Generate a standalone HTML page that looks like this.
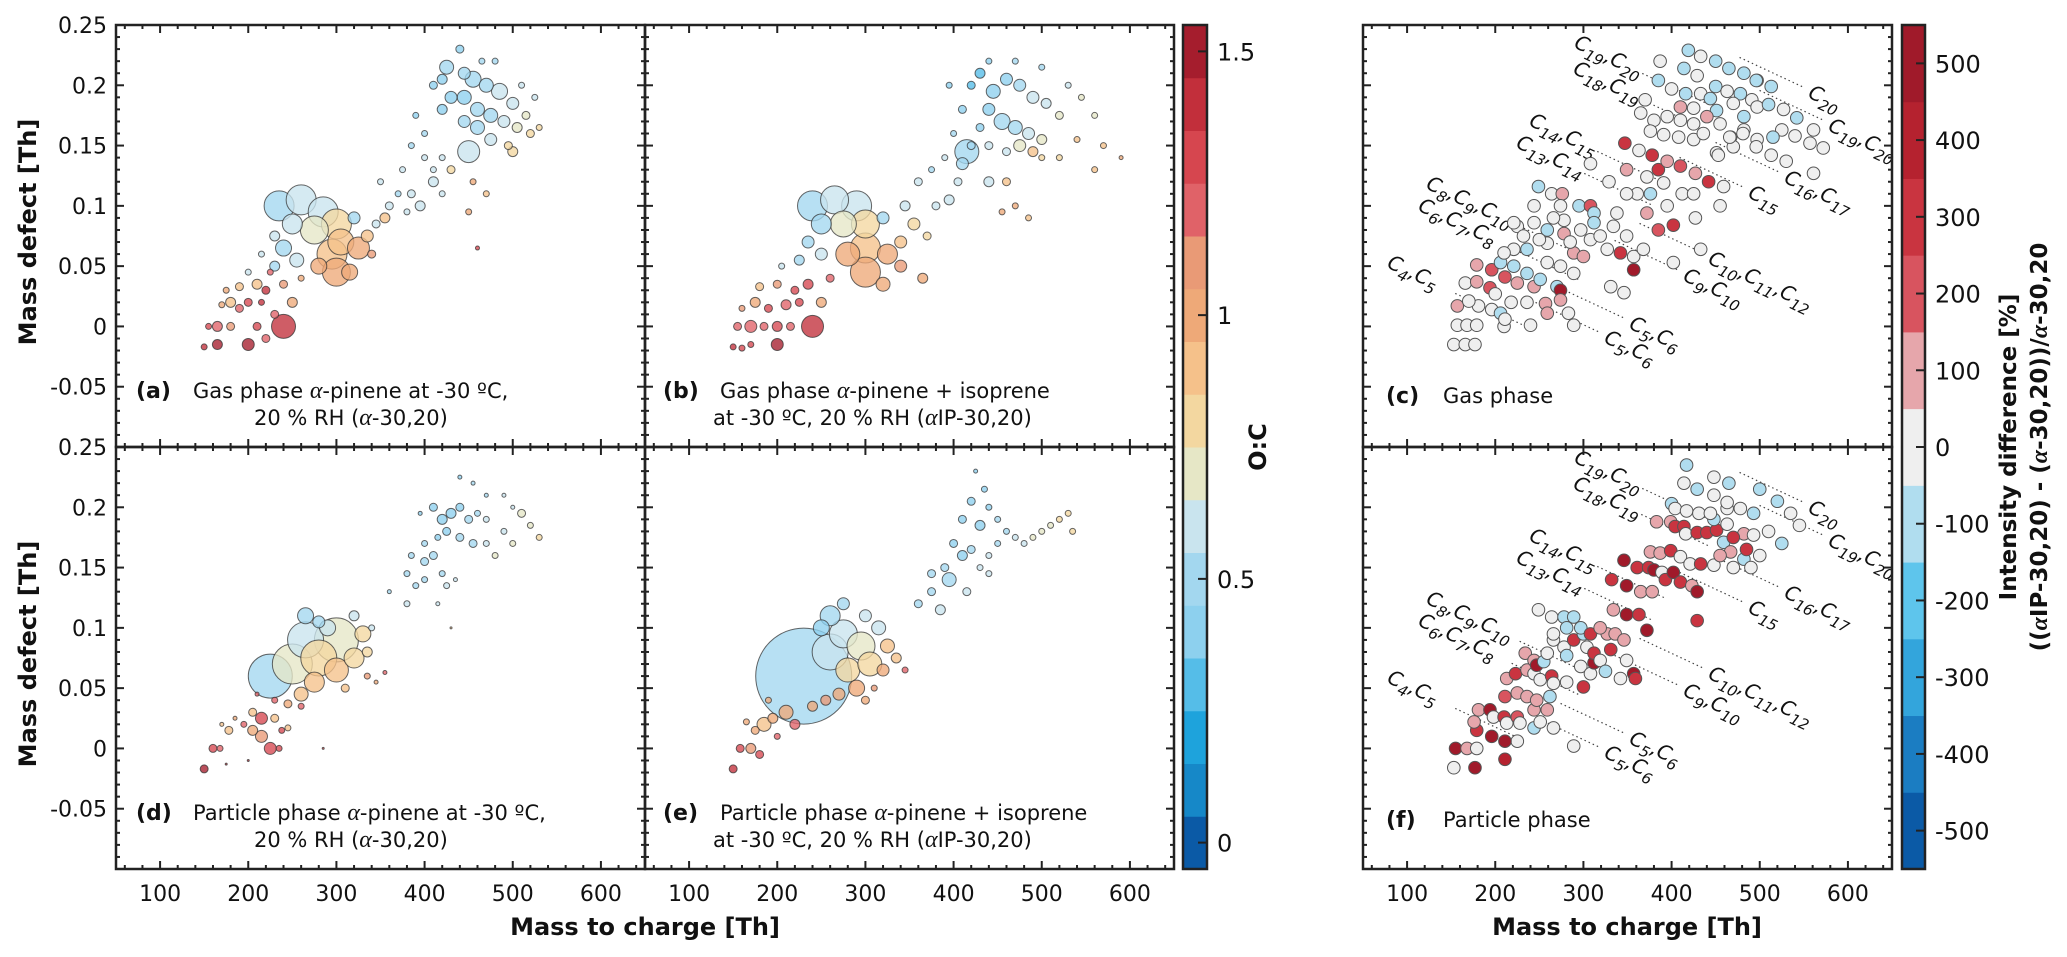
<!DOCTYPE html>
<html><head><meta charset="utf-8"><style>
body{margin:0;background:#fff;}
svg{display:block;font-family:"DejaVu Sans","Liberation Sans",sans-serif;}
</style></head><body>
<svg id="fig" width="2067" height="957" viewBox="0 0 2067 957" xmlns="http://www.w3.org/2000/svg">
<rect width="2067" height="957" fill="#fff"/>
<g id="layer"></g>
</svg>
<script>
// ---------- data ----------
const ocBandColors = ['#0b5aa6','#1688c8','#1ea3dc','#55bde8','#8dd0ee','#a3d7ef','#c9e4ee','#e6e7c6','#f3d7a0','#f5c18a','#eea978','#e99a76','#e06268','#d6464f','#c22f3b','#a51d2d'];
const ocTicks = [0, 0.5, 1, 1.5];
const diffBandColors = ['#0b5aa6','#1b7dc2','#33a5dc','#5ec5ec','#b0ddef','#efefef','#e6a6ab','#d8545f','#c93440','#b5222f','#a01a2a'];
const diffTicks = [-500,-400,-300,-200,-100,0,100,200,300,400,500];
const xTicks = [100,200,300,400,500,600];
const yTicks = [0.25,0.2,0.15,0.1,0.05,0,-0.05];

// [m/z, mass defect, O:C, bubble radius]
const panelA = [[150,-0.017,1.4,3],[165,-0.015,1.5,5],[155,0.0,1.3,3],[165,0.0,1.2,5],[180,0.0,1.1,4],[170,0.018,1.0,3],[180,0.02,0.9,5],[190,0.015,1.2,4],[200,0.02,1.3,4],[210,0.0,1.3,4],[215,0.02,1.4,3],[240,0.0,1.4,12],[200,-0.015,1.5,6],[220,-0.01,1.2,4],[230,0.01,1.2,4],[250,0.02,1.0,5],[190,0.033,0.9,4],[175,0.03,1.0,3],[210,0.035,0.9,5],[220,0.03,1.4,4],[225,0.045,1.2,3],[240,0.035,1.1,4],[260,0.04,1.0,3],[200,0.045,0.6,3],[230,0.05,0.5,5],[215,0.06,0.6,3],
[235,0.1,0.5,15],[260,0.105,0.55,15],[285,0.095,0.6,15],[275,0.08,0.7,14],[250,0.085,0.55,10],[240,0.065,0.5,8],[255,0.055,0.6,7],[230,0.075,0.55,5],[300,0.085,0.8,15],[305,0.07,0.85,13],[295,0.06,0.9,15],[300,0.045,1.0,14],[325,0.065,0.95,11],[335,0.075,0.85,6],[340,0.06,1.1,4],[315,0.045,0.95,8],[280,0.05,0.95,8],[320,0.09,0.5,6],[345,0.085,0.6,4],[360,0.1,0.55,4],[355,0.09,0.85,5],
[350,0.12,0.6,3],[370,0.11,0.5,3],[380,0.095,0.6,3],[385,0.11,0.55,4],[395,0.1,0.6,5],[375,0.13,0.55,3],[385,0.15,0.5,3],[400,0.14,0.55,3],[410,0.13,0.6,3],[420,0.14,0.55,3],[410,0.12,0.55,5],[430,0.13,0.75,4],[455,0.12,0.95,3],[470,0.11,0.85,3],[450,0.095,1.0,3],[460,0.065,1.3,2],[420,0.11,0.6,3],[400,0.16,0.5,3],[390,0.175,0.4,3],
[420,0.205,0.4,5],[425,0.215,0.45,7],[440,0.23,0.4,4],[445,0.21,0.45,6],[455,0.205,0.45,8],[470,0.2,0.5,7],[485,0.195,0.55,8],[500,0.185,0.6,6],[430,0.19,0.4,6],[445,0.19,0.4,7],[460,0.18,0.5,7],[475,0.175,0.5,7],[490,0.17,0.55,6],[505,0.165,0.65,5],[515,0.175,0.7,4],[520,0.16,0.8,4],[530,0.165,0.75,3],[420,0.18,0.4,5],[445,0.17,0.45,6],[460,0.165,0.5,7],[475,0.155,0.6,6],[450,0.145,0.55,11],[495,0.15,0.75,4],[500,0.145,0.8,5],[410,0.2,0.4,4],[465,0.22,0.45,3],[480,0.22,0.5,3],[510,0.2,0.55,3],[525,0.19,0.6,3]];
const panelB = [[150,-0.017,1.4,3],[160,-0.018,1.3,3],[170,-0.015,1.3,3],[200,-0.015,1.5,6],[155,0.0,1.2,4],[170,0.0,1.2,6],[185,0.0,1.2,4],[200,0.0,1.3,5],[215,0.0,1.2,4],[240,0.0,1.4,11],[160,0.015,1.1,3],[175,0.02,1.0,5],[190,0.015,1.3,4],[210,0.018,1.2,5],[225,0.02,1.3,4],[250,0.02,1.0,5],[180,0.033,0.9,4],[200,0.035,1.1,4],[220,0.03,1.3,4],[235,0.035,1.3,5],[260,0.04,1.2,4],[205,0.05,0.6,3],[225,0.055,0.5,5],
[240,0.1,0.5,15],[265,0.105,0.55,14],[290,0.1,0.6,15],[250,0.085,0.5,10],[275,0.085,0.7,13],[300,0.085,0.8,14],[300,0.065,0.9,15],[280,0.06,0.95,12],[300,0.045,1.0,15],[325,0.06,1.0,10],[340,0.07,0.9,6],[340,0.05,1.1,6],[365,0.04,1.0,5],[320,0.035,1.0,7],[235,0.07,0.5,6],[250,0.06,0.55,6],[320,0.09,0.5,6],[345,0.1,0.55,5],[355,0.085,0.75,6],[370,0.075,0.8,4],
[360,0.12,0.55,4],[380,0.1,0.6,4],[395,0.105,0.6,5],[375,0.13,0.5,3],[390,0.14,0.55,3],[405,0.12,0.55,4],[410,0.135,0.5,6],[420,0.15,0.5,4],[400,0.16,0.45,3],[440,0.12,0.6,5],[460,0.12,0.85,4],[470,0.1,0.95,3],[485,0.09,0.9,3],[455,0.095,1.0,3],[500,0.14,0.75,3],[520,0.14,0.8,3],[540,0.155,0.85,3],[570,0.15,0.9,3],[590,0.14,0.95,2],[560,0.13,0.85,3],
[415,0.145,0.5,12],[420,0.2,0.3,4],[430,0.21,0.3,5],[440,0.22,0.35,3],[445,0.195,0.35,7],[460,0.205,0.4,6],[475,0.2,0.45,6],[490,0.19,0.55,6],[505,0.185,0.6,5],[520,0.175,0.7,4],[440,0.18,0.35,6],[455,0.17,0.45,8],[470,0.165,0.5,7],[485,0.16,0.6,6],[500,0.155,0.7,5],[430,0.165,0.4,4],[410,0.18,0.35,4],[395,0.2,0.4,3],[470,0.22,0.45,3],[500,0.215,0.5,3],[530,0.2,0.55,3],[545,0.19,0.65,3],[560,0.175,0.7,3],[440,0.15,0.55,4],[460,0.145,0.6,4],[475,0.15,0.7,6],[490,0.145,0.85,5]];
const panelD = [[150,-0.017,1.45,4],[160,0.0,1.3,4],[168,0.0,1.2,3],[175,-0.013,1.4,1],[170,0.02,0.9,2],[178,0.015,0.9,4],[185,0.025,1.0,2],[195,0.02,1.2,3],[205,0.015,1.0,5],[215,0.01,1.1,6],[225,0.0,1.3,6],[235,0.0,1.3,3],[215,0.025,1.3,6],[205,0.03,0.9,4],[230,0.025,0.85,4],[245,0.017,0.9,3],[238,0.015,1.3,3],[200,-0.01,1.4,1],[285,0.0,1.3,1],
[210,0.045,1.2,2],[230,0.04,1.2,3],[245,0.037,1.0,4],[260,0.035,1.2,3],[225,0.06,0.5,22],[250,0.07,0.7,20],[265,0.09,0.55,18],[280,0.075,0.75,18],[300,0.09,0.65,22],[275,0.055,0.85,10],[260,0.045,0.9,7],[300,0.065,0.85,12],[320,0.075,0.8,10],[330,0.095,0.8,8],[335,0.08,0.75,5],[310,0.05,0.85,4],[335,0.06,1.1,3],[345,0.055,1.0,2],[355,0.063,1.2,2],[290,0.1,0.6,8],[265,0.11,0.5,8],[280,0.105,0.5,6],[320,0.11,0.6,5],[340,0.1,0.6,3],
[360,0.13,0.5,2],[380,0.12,0.55,3],[390,0.135,0.5,3],[400,0.14,0.5,3],[385,0.16,0.45,3],[400,0.155,0.45,4],[410,0.16,0.5,4],[420,0.145,0.5,3],[425,0.135,0.55,3],[380,0.145,0.5,3],[435,0.14,0.6,2],[415,0.12,0.6,2],[430,0.1,0.9,1],
[410,0.2,0.35,4],[420,0.19,0.35,5],[430,0.195,0.4,5],[440,0.2,0.4,4],[450,0.19,0.45,4],[460,0.195,0.5,3],[470,0.19,0.55,3],[425,0.18,0.4,4],[440,0.175,0.45,4],[455,0.17,0.5,4],[470,0.17,0.6,3],[490,0.18,0.6,3],[500,0.17,0.7,3],[510,0.195,0.65,4],[520,0.185,0.7,3],[530,0.175,0.75,3],[480,0.16,0.7,3],[440,0.225,0.4,2],[455,0.22,0.45,2],[470,0.21,0.5,2],[400,0.17,0.45,3],[500,0.2,0.6,2],[490,0.21,0.6,2],[415,0.175,0.4,3],[395,0.195,0.35,2]];
const panelE = [[150,-0.017,1.4,4],[158,0.0,1.3,4],[170,0.0,1.1,5],[180,-0.005,1.3,4],[175,0.015,1.0,4],[185,0.02,0.9,7],[195,0.025,0.95,5],[200,0.01,1.2,3],[210,0.03,0.95,7],[220,0.02,1.2,5],[165,0.022,1.0,3],[190,0.04,1.0,3],
[230,0.06,0.5,48],[260,0.08,0.55,18],[275,0.095,0.55,14],[295,0.085,0.65,14],[280,0.065,0.75,12],[305,0.07,0.8,12],[260,0.11,0.45,10],[250,0.1,0.4,8],[275,0.12,0.45,6],[315,0.1,0.6,7],[300,0.11,0.55,6],[325,0.085,0.85,7],[320,0.065,0.95,6],[335,0.075,0.9,5],[345,0.065,1.2,3],[290,0.05,0.95,8],[270,0.045,1.0,6],[255,0.04,1.1,5],[240,0.035,1.0,5],[300,0.04,1.0,4],[310,0.05,1.1,3],
[360,0.12,0.5,4],[375,0.13,0.5,4],[385,0.115,0.55,5],[395,0.14,0.5,7],[375,0.145,0.45,4],[390,0.15,0.45,4],[410,0.16,0.4,5],[400,0.17,0.4,4],[420,0.165,0.45,4],[430,0.15,0.55,3],[415,0.13,0.55,4],[440,0.145,0.6,3],
[410,0.19,0.35,4],[420,0.205,0.35,4],[430,0.185,0.4,5],[440,0.2,0.4,3],[435,0.215,0.35,3],[450,0.19,0.45,3],[460,0.18,0.5,3],[470,0.175,0.55,3],[480,0.17,0.6,3],[490,0.175,0.65,3],[500,0.18,0.7,3],[510,0.185,0.7,3],[520,0.19,0.75,3],[535,0.18,0.8,3],[530,0.195,0.75,3],[425,0.23,0.4,2],[450,0.17,0.5,3],[440,0.16,0.55,3]];

// [m/z, mass defect, intensity difference %]
const panelC = [[153,-0.015,0],[166,-0.015,0],[177,-0.015,0],[157,0.001,0],[168,0.001,0],[179,0.001,0],[157,0.017,100],[181,0.017,0],[170,0.021,0],[166,0.036,0],[179,0.037,100],[194,0.032,200],[179,0.051,100],[196,0.047,200],[206,0.053,-100],[211,0.041,200],[196,0.014,0],[210,0.0,0],[206,0.011,-100],[211,0.006,0],[221,0.064,0],[221,0.05,-100],[225,0.036,100],[236,0.044,-100],[236,0.064,-100],[244,0.033,100],[251,0.039,-100],[257,0.019,100],[259,0.011,100],[270,0.033,-100],[274,0.03,500],[274,0.022,100],[283,0.011,0],[289,0.001,0],[240,0.001,0],[225,0.083,0],[210,0.061,0],[221,0.086,0],[244,0.1,0],[249,0.116,-100],[264,0.11,0],[276,0.11,100],[274,0.1,0],[244,0.086,0],[259,0.08,-100],[259,0.069,0],[278,0.077,100],[278,0.088,0],[289,0.061,100],[295,0.1,-100],[308,0.1,200],[312,0.094,-100],[312,0.086,-100],[300,0.058,100],[308,0.072,0],[319,0.075,0],[327,0.064,0],[338,0.094,0],[342,0.061,300],[357,0.047,500],[331,0.033,0],[346,0.028,0],[334,0.083,0],[349,0.075,0],[357,0.058,0],[368,0.064,0],[259,0.053,0],[274,0.05,0],[289,0.044,0],[232,0.075,0],[250,0.072,0],[266,0.09,0],[285,0.07,0],[297,0.08,0],[200,0.027,0],[218,0.02,0],[236,0.02,0],
[308,0.135,0],[329,0.12,0],[347,0.152,300],[363,0.146,0],[349,0.13,100],[378,0.142,300],[385,0.13,300],[395,0.137,100],[410,0.133,200],[427,0.127,100],[442,0.12,300],[459,0.116,0],[455,0.1,0],[427,0.09,0],[402,0.084,300],[385,0.08,200],[372,0.094,100],[376,0.11,-100],[361,0.11,0],[391,0.119,0],[412,0.11,0],[425,0.11,0],[395,0.1,0],[372,0.124,0],[349,0.11,0],[433,0.064,0],[402,0.053,0],
[419,0.229,-100],[433,0.224,0],[450,0.22,-100],[465,0.214,-100],[482,0.21,-100],[497,0.204,-100],[387,0.22,0],[414,0.214,-100],[429,0.208,0],[385,0.204,-100],[400,0.197,0],[416,0.193,-100],[433,0.193,0],[450,0.199,-100],[463,0.195,0],[478,0.193,-100],[491,0.188,0],[370,0.188,0],[410,0.182,100],[425,0.181,0],[444,0.189,-100],[451,0.179,-100],[470,0.185,0],[482,0.174,-100],[497,0.182,0],[365,0.177,0],[380,0.171,0],[395,0.174,0],[410,0.171,0],[425,0.168,0],[440,0.174,100],[455,0.168,0],[467,0.157,0],[482,0.163,0],[497,0.155,0],[376,0.162,0],[391,0.159,0],[408,0.157,0],[425,0.155,0],[436,0.16,0],[451,0.144,0],[470,0.149,0],
[513,0.199,-100],[496,0.204,-100],[510,0.184,-100],[527,0.18,0],[542,0.173,-100],[561,0.163,0],[572,0.148,0],[557,0.152,0],[540,0.158,0],[525,0.163,0],[515,0.157,-100],[496,0.149,0],[513,0.142,0],[530,0.137,0],[561,0.127,0],[453,0.142,0],[466,0.157,0],[481,0.16,0]];
const panelF = [[153,-0.016,0],[177,-0.016,500],[211,-0.009,400],[155,0.0,500],[168,0.0,100],[179,0.0,0],[225,0.006,0],[211,0.006,500],[196,0.01,500],[179,0.015,300],[176,0.022,100],[181,0.032,100],[194,0.032,500],[198,0.026,0],[210,0.026,300],[213,0.021,0],[225,0.026,200],[228,0.021,0],[244,0.017,-100],[251,0.022,0],[266,0.017,0],[289,0.002,0],[211,0.043,200],[225,0.046,100],[236,0.043,100],[244,0.032,100],[259,0.032,100],[247,0.04,100],[262,0.043,-100],[213,0.058,100],[223,0.062,300],[236,0.065,100],[244,0.062,0],[251,0.057,0],[264,0.06,300],[266,0.054,0],[281,0.055,0],[234,0.079,100],[244,0.073,100],[247,0.069,500],[255,0.072,-100],[259,0.079,0],[266,0.09,0],[278,0.084,0],[281,0.077,-100],[289,0.09,300],[300,0.095,-100],[304,0.084,0],[297,0.068,0],[300,0.051,300],[308,0.062,0],[312,0.071,500],[312,0.079,300],[319,0.073,0],[327,0.095,100],[331,0.082,300],[336,0.095,100],[346,0.09,100],[349,0.073,0],[357,0.062,500],[359,0.058,300],[342,0.058,0],[325,0.064,-100],
[249,0.115,0],[264,0.109,0],[278,0.109,-100],[289,0.109,-100],[266,0.095,0],[281,0.1,-100],[297,0.1,-100],[308,0.095,300],[319,0.1,100],[334,0.115,100],[349,0.111,500],[363,0.111,300],[372,0.098,500],[332,0.14,300],[349,0.135,500],[365,0.13,100],[378,0.13,100],[346,0.156,500],[361,0.15,300],[374,0.15,300],[380,0.148,500],[389,0.146,0],[393,0.14,300],[402,0.146,500],[410,0.138,300],[423,0.135,100],[429,0.13,500],[429,0.106,300],
[376,0.163,100],[387,0.162,100],[399,0.164,300],[410,0.159,0],[421,0.153,0],[433,0.153,300],[448,0.152,0],[383,0.188,100],[399,0.188,100],[404,0.184,300],[414,0.184,300],[416,0.178,0],[429,0.179,300],[440,0.179,300],[451,0.181,300],[463,0.186,0],[459,0.171,-100],[467,0.163,100],[482,0.157,-100],[482,0.178,100],[493,0.177,0],[448,0.19,-100],[400,0.203,-100],[404,0.199,0],[417,0.197,0],[431,0.195,0],[444,0.195,0],[463,0.199,0],[478,0.199,0],[493,0.195,-100],[414,0.22,0],[429,0.215,-100],[448,0.21,0],[463,0.204,0],[417,0.235,-100],[448,0.225,0],[465,0.22,-100],
[500,0.215,-100],[520,0.205,-100],[535,0.195,0],[545,0.185,0],[510,0.18,0],[525,0.17,-100],[470,0.175,300],[485,0.165,300],[455,0.16,100],[470,0.15,0],[490,0.15,0],[500,0.16,0]];

// carbon-number labels: [x, y, parts]
const formulaLabels = [[1573,47,['19','20']],[1572,73,['18','19']],[1528,125,['14','15']],[1515,147,['13','14']],[1425,188,['8','9','10']],[1417,210,['6','7','8']],[1386,267,['4','5']],[1628,328,['5','6']],[1603,342,['5','6']],[1682,280,['9','10']],[1707,263,['10','11','12']],[1747,197,['15']],[1783,182,['16','17']],[1827,130,['19','20']],[1807,97,['20']]];
const leftLabelIdx = [0,1,2,3,4,5,6];

// ---------- layout ----------
const NS = 'http://www.w3.org/2000/svg';
const layer = document.getElementById('layer');
const COLX = [116, 645, 1363], ROWY = [25, 447], PW = 529, PH = 422;
const XMIN = 50, XMAX = 650, YMIN = -0.1, YMAX = 0.25;
function mk(tag, attrs, parent) {
  const e = document.createElementNS(NS, tag);
  for (const k in attrs) e.setAttribute(k, attrs[k]);
  (parent || layer).appendChild(e);
  return e;
}
function xs(col, v) { return COLX[col] + (v - XMIN) / (XMAX - XMIN) * PW; }
function ys(row, v) { return ROWY[row] + (YMAX - v) / (YMAX - YMIN) * PH; }
function ocColor(v) { let i = Math.round(v * 10); i = Math.max(0, Math.min(15, i)); return ocBandColors[i]; }
function diffColor(v) { let i = Math.floor((v + 550) / 100); i = Math.max(0, Math.min(10, i)); return diffBandColors[i]; }

function drawAxes(col, row, name) {
  const g = mk('g', {});
  
  
  const x0 = COLX[col], y0 = ROWY[row];
  for (let v = 60; v <= 640; v += 20) {
    const major = v % 100 === 0, L = major ? 8 : 4, x = xs(col, v);
    mk('line', {x1: x, x2: x, y1: y0 + PH, y2: y0 + PH - L, stroke: '#222', 'stroke-width': 2}, g);
    mk('line', {x1: x, x2: x, y1: y0, y2: y0 + L, stroke: '#222', 'stroke-width': 2}, g);
  }
  for (let k = -9; k <= 24; k++) {
    const v = k / 100, major = k % 5 === 0, L = major ? 8 : 4, y = ys(row, v);
    mk('line', {x1: x0, x2: x0 + L, y1: y, y2: y, stroke: '#222', 'stroke-width': 2}, g);
    mk('line', {x1: x0 + PW, x2: x0 + PW - L, y1: y, y2: y, stroke: '#222', 'stroke-width': 2}, g);
  }
  mk('rect', {x: x0, y: y0, width: PW, height: PH, fill: 'none', stroke: '#222', 'stroke-width': 2.5}, g);
}

function drawBubbles(col, row, data, name) {
  const g = mk('g', {});
  
  
  const sorted = data.slice().sort((a, b) => b[3] - a[3]);
  sorted.forEach(d => {
    const c = mk('circle', {cx: xs(col, d[0]), cy: ys(row, d[1]), r: d[3], fill: ocColor(d[2]), 'fill-opacity': 0.78, stroke: '#333', 'stroke-opacity': 0.75, 'stroke-width': 1});
    
    
    g.appendChild(c);
  });
}

function drawDiff(col, row, data, name) {
  const g = mk('g', {});
  
  
  data.forEach(d => {
    const c = mk('circle', {cx: xs(col, d[0]), cy: ys(row, d[1]), r: 6.3, fill: diffColor(d[2]), stroke: '#555', 'stroke-width': 1}, g);
    
    
  });
}

function drawFormulaLabels(dy, name) {
  const g = mk('g', {});
  
  
  const ang = 25, rad = ang * Math.PI / 180, cs = Math.cos(rad), sn = Math.sin(rad);
  formulaLabels.forEach((lab, i) => {
    const x = lab[0], y = lab[1] + dy;
    const t = mk('text', {x: x, y: y, transform: 'rotate(' + ang + ' ' + x + ' ' + y + ')', 'font-size': 20, 'font-style': 'italic', fill: '#111'}, g);
    
    
    lab[2].forEach((n, j) => {
      const c = document.createElementNS(NS, 'tspan');
      c.textContent = (j ? ',' : '') + 'C';
      if (j) c.setAttribute('dy', '-6');
      t.appendChild(c);
      const s = document.createElementNS(NS, 'tspan');
      s.textContent = n; s.setAttribute('dy', '6'); s.setAttribute('font-size', '15');
      t.appendChild(s);
    });
    const len = 16 + lab[2].length * 28;
    let sx, sy, ex, ey;
    if (leftLabelIdx.includes(i)) { sx = x + len * cs + 4; sy = y + len * sn - 4; ex = sx + 75 * cs; ey = sy + 75 * sn; }
    else { ex = x - 4; ey = y - 10; sx = ex - 70 * cs; sy = ey - 70 * sn; }
    mk('line', {x1: sx, y1: sy, x2: ex, y2: ey, stroke: '#444', 'stroke-width': 1.2, 'stroke-dasharray': '1.5 3'}, g);
  });
}

function txt(x, y, s, attrs, name) {
  const t = mk('text', Object.assign({x: x, y: y, fill: '#111'}, attrs || {}));
  t.innerHTML = s;
  
  
  return t;
}

// ---------- panels ----------
drawBubbles(0, 0, panelA, 'panel-a');
drawBubbles(1, 0, panelB, 'panel-b');
drawBubbles(0, 1, panelD, 'panel-d');
drawBubbles(1, 1, panelE, 'panel-e');
drawFormulaLabels(0, 'panel-c');
drawFormulaLabels(415, 'panel-f');
drawDiff(2, 0, panelC, 'panel-c');
drawDiff(2, 1, panelF, 'panel-f');
[['panel-a',0,0],['panel-b',1,0],['panel-c',2,0],['panel-d',0,1],['panel-e',1,1],['panel-f',2,1]].forEach(p => drawAxes(p[1], p[2], p[0]));

// tick labels
[0, 1, 2].forEach(col => xTicks.forEach(v => {
  txt(xs(col, v), 901, String(v), {'font-size': 22, 'text-anchor': 'middle'}, 'x-tick-label');
}));
[0, 1].forEach(row => yTicks.forEach(v => {
  if (row === 1 && v === 0.25) return;
  txt(107, ys(row, v) + 8, String(v), {'font-size': 22, 'text-anchor': 'end'}, 'y-tick-label');
}));
txt(107, ys(1, 0.25) + 8, '0.25', {'font-size': 22, 'text-anchor': 'end'}, 'y-tick-label');

// axis titles
txt(645, 935, 'Mass to charge [Th]', {'font-size': 24, 'font-weight': 'bold', 'text-anchor': 'middle'}, 'x-axis-title');
txt(1627, 935, 'Mass to charge [Th]', {'font-size': 24, 'font-weight': 'bold', 'text-anchor': 'middle'}, 'x-axis-title-right');
txt(0, 0, 'Mass defect [Th]', {'font-size': 24, 'font-weight': 'bold', 'text-anchor': 'middle', transform: 'translate(36,232) rotate(-90)'}, 'y-axis-title-top');
txt(0, 0, 'Mass defect [Th]', {'font-size': 24, 'font-weight': 'bold', 'text-anchor': 'middle', transform: 'translate(36,654) rotate(-90)'}, 'y-axis-title-bottom');

// panel annotations
const A = '<tspan font-family="Liberation Serif, serif" font-style="italic" font-size="24">α</tspan>';
function annot(x, y, tag, l1, x2, l2, name) {
  txt(x, y, tag, {'font-size': 22, 'font-weight': 'bold'}, name + '-tag');
  txt(x + 57, y, l1, {'font-size': 21}, name + '-text');
  if (l2) txt(x2, y + 27, l2, {'font-size': 21}, name + '-text-2');
}
annot(136, 398, '(a)', 'Gas phase ' + A + '-pinene at -30 ºC,', 254, '20 % RH (' + A + '-30,20)', 'panel-a');
annot(663, 398, '(b)', 'Gas phase ' + A + '-pinene + isoprene', 713, 'at -30 ºC, 20 % RH (' + A + 'IP-30,20)', 'panel-b');
annot(136, 820, '(d)', 'Particle phase ' + A + '-pinene at -30 ºC,', 254, '20 % RH (' + A + '-30,20)', 'panel-d');
annot(663, 820, '(e)', 'Particle phase ' + A + '-pinene + isoprene', 713, 'at -30 ºC, 20 % RH (' + A + 'IP-30,20)', 'panel-e');
annot(1386, 403, '(c)', 'Gas phase', 0, null, 'panel-c');
annot(1386, 827, '(f)', 'Particle phase', 0, null, 'panel-f');

// ---------- colorbars ----------
function colorbar(x, w, colors, vmin, step, ticks, fmt, name) {
  const g = mk('g', {});
  
  
  const top = 25, bot = 869, n = colors.length, vmax = vmin + n * step;
  const yv = v => bot - (v - vmin) / (vmax - vmin) * (bot - top);
  colors.forEach((c, i) => {
    mk('rect', {x: x, y: yv(vmin + (i + 1) * step), width: w, height: (bot - top) / n + 0.5, fill: c}, g);
  });
  mk('rect', {x: x, y: top, width: w, height: bot - top, fill: 'none', stroke: '#222', 'stroke-width': 2.5}, g);
  ticks.forEach(v => {
    const y = yv(v);
    mk('line', {x1: x + w - 9, x2: x + w, y1: y, y2: y, stroke: '#222', 'stroke-width': 2}, g);
    txt(x + w + 10, y + 9, fmt(v), {'font-size': 24}, name + '-tick-label');
  });
}
colorbar(1183, 24, ocBandColors, -0.05, 0.1, ocTicks, v => String(v), 'oc-colorbar');
colorbar(1902, 23, diffBandColors, -550, 100, diffTicks, v => String(v), 'difference-colorbar');
txt(0, 0, 'O:C', {'font-size': 24, 'font-weight': 'bold', 'text-anchor': 'middle', transform: 'translate(1266,447) rotate(-90)'}, 'oc-colorbar-title');
txt(0, 0, 'Intensity difference [%]', {'font-size': 23, 'font-weight': 'bold', 'text-anchor': 'middle', transform: 'translate(2016,447) rotate(-90)'}, 'difference-colorbar-title');
txt(0, 0, '((' + A + 'IP-30,20) - (' + A + '-30,20))/' + A + '-30,20', {'font-size': 23, 'font-weight': 'bold', 'text-anchor': 'middle', transform: 'translate(2047,447) rotate(-90)'}, 'difference-colorbar-formula');
</script>
</body></html>
